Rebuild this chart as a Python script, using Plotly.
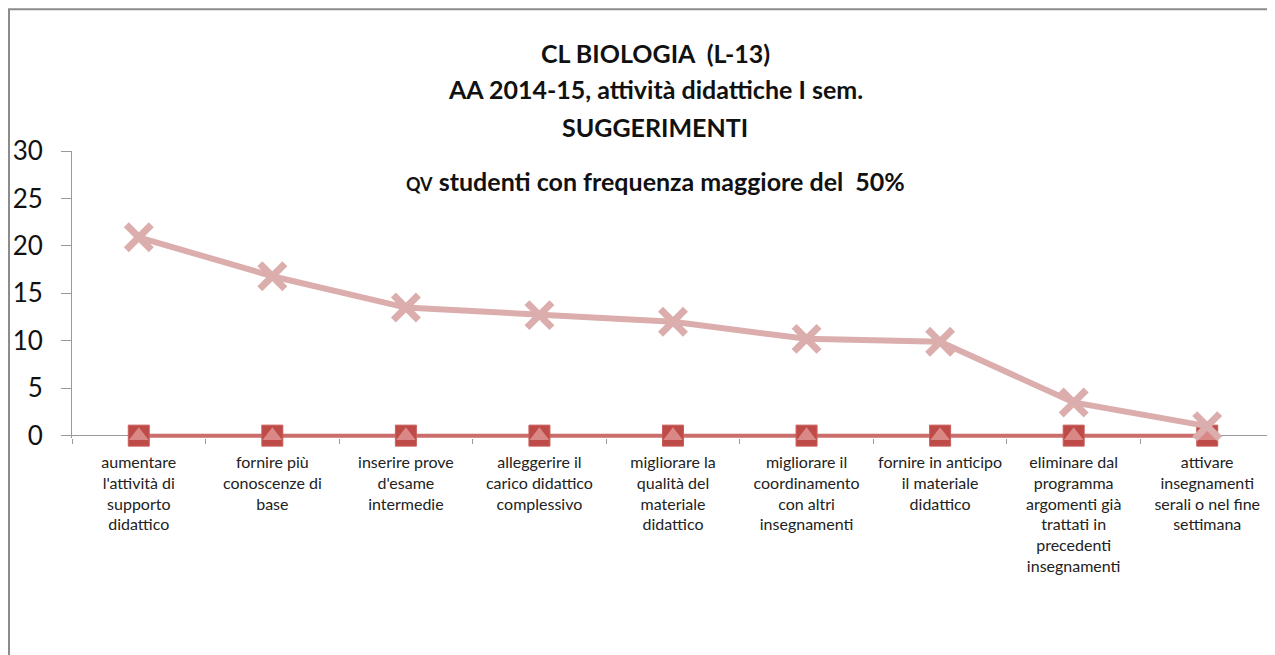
import plotly.graph_objects as go

# ── Data ──────────────────────────────────────────────────────
categories = [
    "aumentare<br>l'attività di<br>supporto<br>didattico",
    "fornire più<br>conoscenze di<br>base",
    "inserire prove<br>d'esame<br>intermedie",
    "alleggerire il<br>carico didattico<br>complessivo",
    "migliorare la<br>qualità del<br>materiale<br>didattico",
    "migliorare il<br>coordinamento<br>con altri<br>insegnamenti",
    "fornire in anticipo<br>il materiale<br>didattico",
    "eliminare dal<br>programma<br>argomenti già<br>trattati in<br>precedenti<br>insegnamenti",
    "attivare<br>insegnamenti<br>serali o nel fine<br>settimana",
]
qv_values = [20.9, 16.8, 13.5, 12.7, 12.0, 10.2, 9.9, 3.5, 1.0]
zero_a = [0, 0, 0, 0, 0, 0, 0, 0, 0]
zero_b = [0, 0, 0, 0, 0, 0, 0, 0, 0]
y_ticks = [0, 5, 10, 15, 20, 25, 30]
title_lines = [
    "<b>CL BIOLOGIA  (L-13)</b>",
    "<b>AA 2014-15, attività didattiche I sem.</b>",
    "<b>SUGGERIMENTI</b>",
    "<b><span style='font-size:18px'>QV</span> studenti con frequenza maggiore del  50%</b>",
]

# ── Geometry (page pixels; page body has an 8px margin) ───────
OFF = 8
W, H = 1275 - OFF, 655 - OFF
Y_MIN = -0.25                     # a little room so the zero line isn't clipped
L, R, T = 72 - OFF, 1274 - OFF, 151 - OFF
ZERO = 436 - OFF
B = ZERO + (ZERO - T) / 30 * (-Y_MIN)
FONT = "Lato, 'Open Sans', sans-serif"
TITLE_Y = [53, 89, 127, 181]


def px_x(x):
    return (x - OFF - L) / (R - L)


def px_y(y):
    return (B - (y - OFF)) / (B - T)


fig = go.Figure()

fig.add_trace(go.Scatter(
    x=categories, y=zero_a,
    mode="lines+markers",
    line=dict(color="#CB6E6B", width=4),
    marker=dict(symbol="square", size=21, color="#BE4B48",
                line=dict(color="#C95F5C", width=1)),
    cliponaxis=False,
    name="serie 1",
))
fig.add_trace(go.Scatter(
    x=categories, y=zero_b,
    mode="markers",
    marker=dict(symbol="triangle-up", size=17, color="#D98886",
                line=dict(width=0)),
    cliponaxis=False,
    name="serie 2",
))
fig.add_trace(go.Scatter(
    x=categories, y=qv_values,
    mode="lines+markers",
    line=dict(color="#DBAEAD", width=6),
    marker=dict(symbol="x-thin", size=25, color="#DBAEAD",
                line=dict(color="#DBAEAD", width=7)),
    cliponaxis=False,
    name="QV",
))

# title
for line, ty in zip(title_lines, TITLE_Y):
    fig.add_annotation(
        xref="paper", yref="paper", x=px_x(655), y=px_y(ty),
        xanchor="center", yanchor="middle", showarrow=False,
        text=line,
        font=dict(family=FONT, size=25, color="#111111"),
    )

# chart border
fig.add_shape(
    type="rect", xref="paper", yref="paper",
    x0=px_x(9), x1=px_x(1273), y0=px_y(670), y1=px_y(9),
    line=dict(color="#8C8C8C", width=2), fillcolor="rgba(0,0,0,0)",
    layer="below",
)

fig.update_layout(
    width=W, height=H,
    margin=dict(l=L, r=W - R, t=T, b=H - B, autoexpand=False),
    paper_bgcolor="white", plot_bgcolor="white",
    showlegend=False,
    font=dict(family=FONT, color="#222222"),
    xaxis=dict(
        type="category", range=[-0.5, 8.5],
        showgrid=False, zeroline=False, showline=False,
        ticks="outside", tickson="boundaries", ticklen=5, tickcolor="#9A9A9A",
        ticklabelstandoff=13,
        tickfont=dict(family=FONT, size=16, color="#222222"),
        tickangle=0,
    ),
    yaxis=dict(
        range=[Y_MIN, 30], tickvals=y_ticks,
        showgrid=False,
        zeroline=True, zerolinecolor="#9A9A9A", zerolinewidth=1,
        showline=True, linecolor="#9A9A9A", linewidth=1,
        ticks="outside", ticklen=10, tickcolor="#9A9A9A",
        ticklabelstandoff=13,
        tickfont=dict(family=FONT, size=26, color="#111111"),
    ),
)

fig.write_html("out.html")
